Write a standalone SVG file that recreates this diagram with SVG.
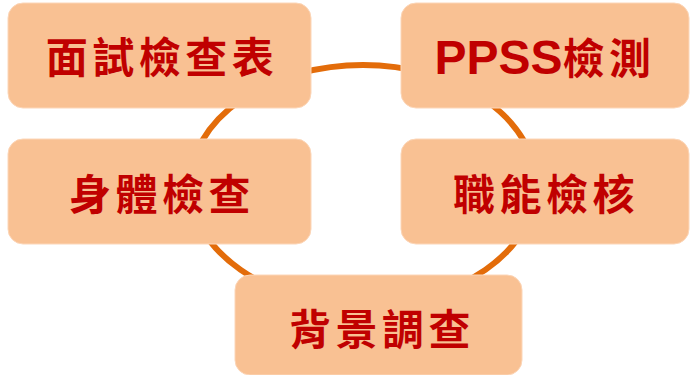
<svg xmlns="http://www.w3.org/2000/svg" width="692" height="375" viewBox="0 0 692 375">
  <style>
    .box { fill: #F9C193; stroke: #FCD6B8; stroke-width: 1; }
    .lbl { fill: #C00000; font-family: "Noto Sans CJK TC", "Noto Sans CJK SC", sans-serif; font-weight: bold; font-size: 42px; letter-spacing: 4.5px; text-anchor: middle; }
    .lat { font-family: "Liberation Sans", Arial, sans-serif; font-size: 48px; letter-spacing: 0px; }
    .ring { fill: none; stroke: #E36C0A; stroke-width: 6; }
  </style>
  <rect width="692" height="375" fill="#FFFFFF"/>
  <g id="connectors">
    <ellipse class="ring" cx="363" cy="185" rx="173" ry="120"/>
  </g>
  <g id="node-interview">
    <rect class="box" x="8" y="3" width="303" height="105" rx="15" ry="15"/>
    <text class="lbl" x="162" y="73">面試檢查表</text>
  </g>
  <g id="node-ppss">
    <rect class="box" x="401" y="3" width="288" height="105" rx="15" ry="15"/>
    <text class="lbl" x="545" y="74"><tspan class="lat">PPSS</tspan>檢測</text>
  </g>
  <g id="node-physical">
    <rect class="box" x="8" y="139" width="303" height="105" rx="15" ry="15"/>
    <text class="lbl" x="162" y="210">身體檢查</text>
  </g>
  <g id="node-function">
    <rect class="box" x="401" y="139" width="288" height="105" rx="15" ry="15"/>
    <text class="lbl" x="546" y="210">職能檢核</text>
  </g>
  <g id="node-background">
    <rect class="box" x="235" y="275" width="287" height="100" rx="15" ry="15"/>
    <text class="lbl" x="382" y="345">背景調查</text>
  </g>
</svg>
